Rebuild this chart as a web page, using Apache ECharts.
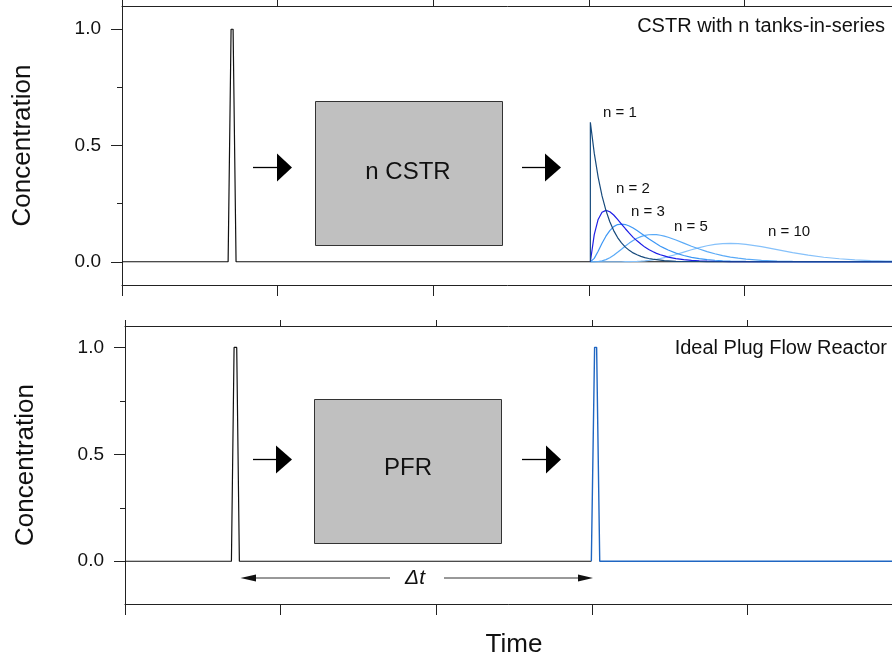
<!DOCTYPE html>
<html><head><meta charset="utf-8">
<script src="https://cdn.jsdelivr.net/npm/echarts@6/dist/echarts.min.js"></script>
<style>html,body{margin:0;padding:0;background:#fff}#c{width:892px;height:659px}</style>
</head><body><div id="c"></div>
<script>
// ---------- data ----------
const yTickValues = [0, 0.5, 1.0];
const yMinorTickValues = [0.25, 0.75];

// top panel: input pulse
const topInputTime = [0, 0.682, 0.701, 0.714, 0.733, 5];
const topInputConc = [0, 0, 1, 1, 0, 0];

// top panel: CSTR outputs (n tanks in series)
const cstrTime = [3.010, 3.010, 3.035, 3.060, 3.085, 3.110, 3.135, 3.160, 3.185, 3.210, 3.235, 3.260, 3.285, 3.310, 3.335, 3.360, 3.385, 3.410, 3.435, 3.460, 3.485, 3.510,
  3.560, 3.610, 3.660, 3.710, 3.760, 3.810, 3.860, 3.910, 3.960, 4.010,
  4.110, 4.210, 4.310, 4.410, 4.510, 4.610, 4.710, 4.810, 4.910, 5.010];
const n1 = [0, 0.600, 0.467, 0.364, 0.283, 0.221, 0.172, 0.134, 0.104, 0.081, 0.063, 0.049, 0.038, 0.030, 0.023, 0.018, 0.014, 0.011, 0.009, 0.007, 0.005, 0.004,
  0.002, 0.001, 0.001, 0.001, 0, 0, 0, 0, 0, 0,
  0, 0, 0, 0, 0, 0, 0, 0, 0, 0];
const n2 = [0, 0, 0.117, 0.182, 0.213, 0.221, 0.215, 0.201, 0.182, 0.162, 0.142, 0.123, 0.105, 0.090, 0.076, 0.063, 0.053, 0.044, 0.036, 0.030, 0.025, 0.020,
  0.0135, 0.0089, 0.0059, 0.0038, 0.0025, 0.0016, 0.0010, 0.0007, 0.0004, 0.0003,
  0.0001, 0, 0, 0, 0, 0, 0, 0, 0, 0];
const n3 = [0, 0, 0.0146, 0.0455, 0.0797, 0.110, 0.134, 0.151, 0.160, 0.162, 0.160, 0.154, 0.145, 0.134, 0.123, 0.111, 0.099, 0.088, 0.077, 0.067, 0.0586, 0.0505,
  0.0371, 0.0268, 0.0190, 0.0134, 0.0093, 0.0064, 0.0044, 0.0030, 0.0020, 0.0014,
  0.0006, 0.0003, 0.0001, 0, 0, 0, 0, 0, 0, 0];
const n5 = [0, 0, 0.0001, 0.0010, 0.0037, 0.0092, 0.0175, 0.0282, 0.0408, 0.0541, 0.0675, 0.0802, 0.0914, 0.1008, 0.1082, 0.1133, 0.1162, 0.1171, 0.1163, 0.1139, 0.1101, 0.1053,
  0.0936, 0.0803, 0.0669, 0.0547, 0.0437, 0.0343, 0.0265, 0.0202, 0.0153, 0.0114,
  0.0061, 0.0032, 0.0016, 0.0008, 0.0004, 0.0002, 0.0001, 0, 0, 0];
const n10 = [0, 0, 0, 0, 0, 0, 0, 0, 0, 0.0001, 0.0003, 0.0005, 0.0010, 0.0016, 0.0026, 0.0039, 0.0057, 0.0079, 0.0107, 0.0139, 0.0176, 0.0218,
  0.0311, 0.0413, 0.0515, 0.0608, 0.0687, 0.0744, 0.0779, 0.0790, 0.0780, 0.0751,
  0.0651, 0.0524, 0.0396, 0.0284, 0.0194, 0.0128, 0.0081, 0.0050, 0.0030, 0.0017];

// bottom panel: input pulse and PFR output pulse
const bottomInputTime = [0, 0.684, 0.701, 0.718, 0.735, 2.997];
const bottomInputConc = [0, 0, 1, 1, 0, 0];
const pfrTime = [2.997, 3.018, 3.031, 3.051, 5];
const pfrConc = [0, 1, 1, 0, 0];

const curveLabels = ['n = 1', 'n = 2', 'n = 3', 'n = 5', 'n = 10'];

// ---------- chart ----------
const F = "'Liberation Sans', Arial, sans-serif";
const AX = '#222';
const zip = (xs, ys) => xs.map((x, i) => [x, ys[i]]);

function yAxes(gridIndex, min) {
  return [{
    type: 'value', gridIndex, min, max: 1.1, position: 'left',
    name: 'Concentration', nameLocation: 'middle', nameGap: 86,
    nameTextStyle: { fontSize: 26, color: '#111', fontFamily: F },
    axisLine: { show: true, onZero: false, lineStyle: { color: AX, width: 1 } },
    axisTick: { show: true, length: 11, customValues: yTickValues, lineStyle: { color: AX } },
    axisLabel: { show: true, customValues: yTickValues, margin: 21, fontSize: 19, color: '#111', fontFamily: F,
      formatter: v => v.toFixed(1) },
    splitLine: { show: false }
  }, {
    type: 'value', gridIndex, min, max: 1.1, position: 'left',
    axisLine: { show: false, onZero: false },
    axisLabel: { show: false },
    axisTick: { show: true, length: 5, customValues: yMinorTickValues, lineStyle: { color: AX } },
    splitLine: { show: false }
  }];
}
function xAxis(gridIndex, pos, len, extra) {
  return Object.assign({
    type: 'value', gridIndex, position: pos, min: 0, max: 5, interval: 1,
    axisLine: { show: true, onZero: false, lineStyle: { color: AX, width: 1 } },
    axisTick: { show: true, length: len, lineStyle: { color: AX } },
    axisLabel: { show: false }, splitLine: { show: false }
  }, extra || {});
}
function line(data, color, xi, yi, w) {
  return { type: 'line', data, xAxisIndex: xi, yAxisIndex: yi, showSymbol: false, symbol: 'none',
    lineStyle: { color, width: w || 1.2 }, itemStyle: { color }, animation: false, silent: true };
}

const colors = ['#174a7c', '#1e1ee6', '#3d97f5', '#5aaaf7', '#86c1fa'];

function arrow(x1, x2, xTip, y, h) {
  return [
    { type: 'line', shape: { x1, y1: y, x2, y2: y }, style: { stroke: '#000', lineWidth: 1.3 } },
    { type: 'polygon', shape: { points: [[x2, y - h], [xTip, y], [x2, y + h]] }, style: { fill: '#000' } }
  ];
}
function txt(text, x, y, size, align, extra) {
  return { type: 'text', x, y, style: Object.assign({ text, font: size + 'px ' + F, fill: '#111',
    align: align || 'left', verticalAlign: 'middle' }, extra || {}) };
}

const graphics = [].concat(
  // top panel diagram
  [{ type: 'rect', shape: { x: 315.5, y: 101.5, width: 187, height: 144 }, style: { fill: '#c0c0c0', stroke: '#333', lineWidth: 1 } }],
  arrow(253, 277, 292, 167.5, 14),
  arrow(522, 545, 561, 167.5, 14),
  [txt('n CSTR', 408, 172, 24, 'center')],
  // bottom panel diagram
  [{ type: 'rect', shape: { x: 314.5, y: 399.5, width: 187, height: 144 }, style: { fill: '#c0c0c0', stroke: '#333', lineWidth: 1 } }],
  arrow(253, 276, 292, 459.5, 14),
  arrow(522, 546, 561, 459.5, 14),
  [txt('PFR', 408, 468, 24, 'center')],
  // delta t
  [{ type: 'line', shape: { x1: 254, y1: 578, x2: 390, y2: 578 }, style: { stroke: '#333', lineWidth: 1 } },
   { type: 'polygon', shape: { points: [[240.5, 578], [256, 574.5], [256, 581.5]] }, style: { fill: '#111' } },
   { type: 'line', shape: { x1: 444, y1: 578, x2: 579, y2: 578 }, style: { stroke: '#333', lineWidth: 1 } },
   { type: 'polygon', shape: { points: [[593, 578], [578, 574.5], [578, 581.5]] }, style: { fill: '#111' } },
   txt('\u0394t', 415, 578, 21, 'center', { font: 'italic 21px ' + F })],
  // annotations
  [txt('CSTR with n tanks-in-series', 885, 26, 20, 'right'),
   txt('Ideal Plug Flow Reactor', 887, 348, 20, 'right'),
   txt(curveLabels[0], 603, 113, 15),
   txt(curveLabels[1], 616, 189, 15),
   txt(curveLabels[2], 631, 212, 15),
   txt(curveLabels[3], 674, 227, 15),
   txt(curveLabels[4], 768, 232, 15)]
);

const option = {
  backgroundColor: '#fff',
  animation: false,
  grid: [
    { left: 122, top: 6, width: 778, height: 279, outerBoundsMode: 'none', containLabel: false },
    { left: 125, top: 326, width: 778, height: 278, outerBoundsMode: 'none', containLabel: false }
  ],
  xAxis: [
    xAxis(0, 'bottom', 11),
    xAxis(0, 'top', 6),
    xAxis(1, 'bottom', 11, { name: 'Time', nameLocation: 'middle', nameGap: 28,
      nameTextStyle: { fontSize: 26, color: '#111', fontFamily: F } }),
    xAxis(1, 'top', 6)
  ],
  yAxis: [].concat(yAxes(0, -0.1), yAxes(1, -0.2)),
  series: [
    line(zip(topInputTime, topInputConc), '#111', 0, 0),
    line(zip(cstrTime, n10), colors[4], 0, 0),
    line(zip(cstrTime, n5), colors[3], 0, 0),
    line(zip(cstrTime, n3), colors[2], 0, 0),
    line(zip(cstrTime, n2), colors[1], 0, 0),
    line(zip(cstrTime, n1), colors[0], 0, 0),
    line(zip(bottomInputTime, bottomInputConc), '#111', 2, 2),
    line(zip(pfrTime, pfrConc), '#1f66c2', 2, 2, 1.4)
  ],
  graphic: graphics
};

const chart = echarts.init(document.getElementById('c'), null, { renderer: 'canvas' });
chart.setOption(option);
</script>
</body></html>
